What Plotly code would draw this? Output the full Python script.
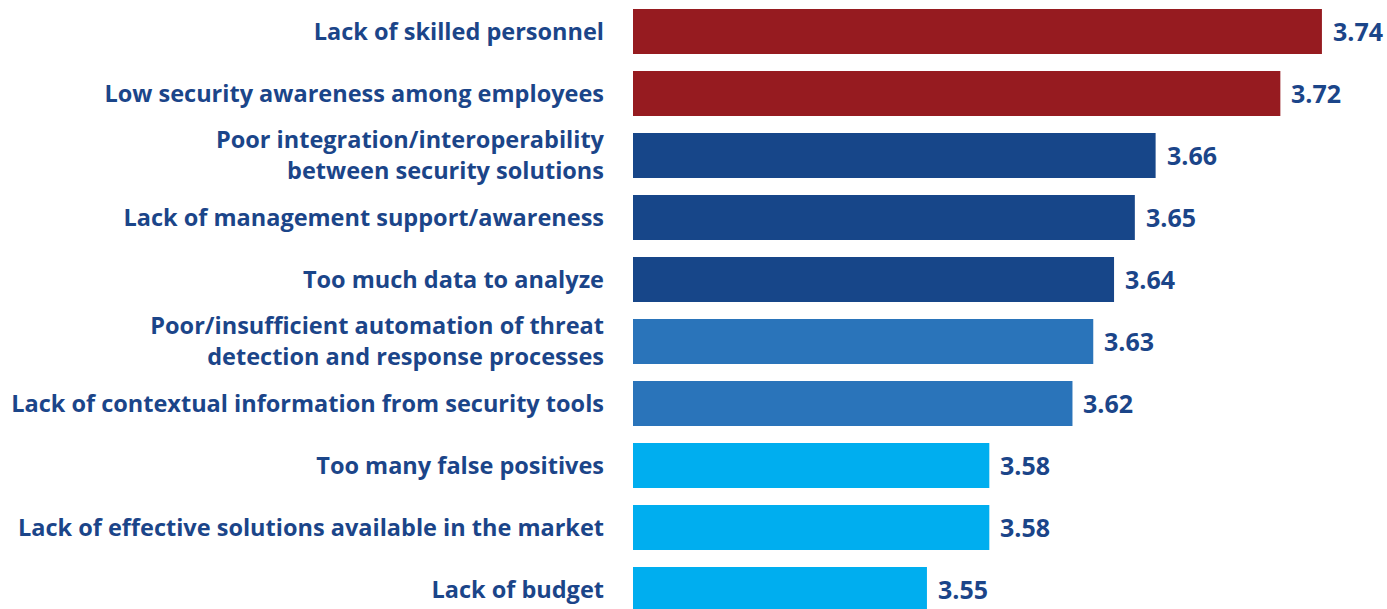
import plotly.graph_objects as go

categories = [
    "Lack of skilled personnel",
    "Low security awareness among employees",
    "Poor integration/interoperability<br>between security solutions",
    "Lack of management support/awareness",
    "Too much data to analyze",
    "Poor/insufficient automation of threat<br>detection and response processes",
    "Lack of contextual information from security tools",
    "Too many false positives",
    "Lack of effective solutions available in the market",
    "Lack of budget",
]
values = [3.74, 3.72, 3.66, 3.65, 3.64, 3.63, 3.62, 3.58, 3.58, 3.55]
bar_colors = ["#961B20", "#961B20", "#174689", "#174689", "#174689",
              "#2A74BA", "#2A74BA", "#00AEEF", "#00AEEF", "#00AEEF"]
value_labels = [f"{v:.2f}" for v in values]

TEXT = "#1B4589"
FONT = "Open Sans"
positions = list(range(len(categories)))

fig = go.Figure()
fig.add_trace(go.Bar(
    x=values, y=positions, orientation="h",
    marker=dict(color=bar_colors, line=dict(width=0)),
    width=0.726, hoverinfo="skip",
))

for v, p, t in zip(values, positions, value_labels):
    fig.add_annotation(x=v, y=p, text=f"<b>{t}</b>", showarrow=False,
                       xanchor="left", yanchor="middle", xshift=9,
                       font=dict(family=FONT, size=25, color=TEXT))

fig.update_layout(
    width=1387, height=609,
    margin=dict(l=633, r=0, t=0, b=0),
    paper_bgcolor="white", plot_bgcolor="white",
    showlegend=False,
    xaxis=dict(range=[3.4086, 3.7713], visible=False),
    yaxis=dict(
        range=[9.315, -0.508],
        tickmode="array", tickvals=positions,
        ticktext=[f"<b>{c}</b>" for c in categories],
        tickfont=dict(family=FONT, size=23.5, color=TEXT),
        showgrid=False, zeroline=False, showline=False,
        ticks="", ticklabelstandoff=28,
    ),
)

fig.write_html("out.html")
